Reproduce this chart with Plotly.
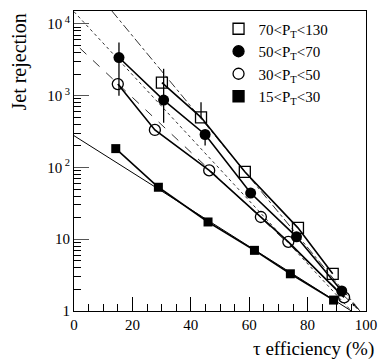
import plotly.graph_objects as go

# ---- data ----
eff_70_130 = [30.1, 43.5, 58.5, 76.7, 88.6]
rej_70_130 = [1520, 500, 87, 14.4, 3.3]

eff_50_70 = [15.4, 30.7, 44.9, 60.5, 76.2, 91.7]
rej_50_70 = [3400, 870, 288, 44, 10.8, 1.9]
err_up_50_70 = [2100, 1500, 0, 0, 0, 0]
err_dn_50_70 = [2400, 450, 85, 0, 0, 0]

eff_30_50 = [15.0, 27.7, 46.3, 64.0, 73.4, 92.5]
rej_30_50 = [1450, 333, 91, 20.4, 9.2, 1.55]

eff_15_30 = [14.3, 28.9, 45.9, 61.8, 74.1, 88.9]
rej_15_30 = [183, 53, 17.4, 7.0, 3.3, 1.42]

err_up_70_130 = [0, 310, 0, 0, 0]

# straight-line fits (end points)
fit_70_130_x = [13.0, 98.0]
fit_70_130_y = [15100, 1.0]
fit_50_70_x = [0.0, 95.0]
fit_50_70_y = [14800, 1.0]
fit_30_50_x = [2.0, 98.0]
fit_30_50_y = [4600, 1.0]
fit_15_30_x = [0.0, 95.0]
fit_15_30_y = [277, 1.0]

legend_names = ["70&lt;P<sub>T</sub>&lt;130", "50&lt;P<sub>T</sub>&lt;70",
                "30&lt;P<sub>T</sub>&lt;50", "15&lt;P<sub>T</sub>&lt;30"]

y_tickvals = [1, 10, 100, 1000, 10000]
y_ticktext = ["1", "10", "10<sup> 2</sup>", "10<sup> 3</sup>", "10<sup> 4</sup>"]
x_tickvals = [0, 20, 40, 60, 80, 100]

FONT = "Times New Roman, Liberation Serif, Tinos, DejaVu Serif, serif"
fig = go.Figure()

# fit lines
fig.add_trace(go.Scatter(x=fit_70_130_x, y=fit_70_130_y, mode="lines",
                         line=dict(color="#333", width=1, dash="dashdot"), showlegend=False))
fig.add_trace(go.Scatter(x=fit_50_70_x, y=fit_50_70_y, mode="lines",
                         line=dict(color="#333", width=1, dash="dot"), showlegend=False))
fig.add_trace(go.Scatter(x=fit_30_50_x, y=fit_30_50_y, mode="lines",
                         line=dict(color="#333", width=1, dash="dash"), showlegend=False))
fig.add_trace(go.Scatter(x=fit_15_30_x, y=fit_15_30_y, mode="lines",
                         line=dict(color="black", width=1), showlegend=False))

# data series
fig.add_trace(go.Scatter(x=eff_15_30, y=rej_15_30, mode="lines+markers",
                         line=dict(color="black", width=1.6),
                         marker=dict(symbol="square", size=9, color="black"),
                         showlegend=False))
fig.add_trace(go.Scatter(x=eff_30_50, y=rej_30_50, mode="lines+markers",
                         line=dict(color="black", width=1.6),
                         marker=dict(symbol="circle-open", size=11, color="black",
                                     line=dict(width=1.3)),
                         showlegend=False))
fig.add_trace(go.Scatter(x=eff_50_70, y=rej_50_70, mode="lines+markers",
                         line=dict(color="black", width=1.6),
                         marker=dict(symbol="circle", size=11, color="black"),
                         error_y=dict(type="data", symmetric=False, array=err_up_50_70,
                                      arrayminus=err_dn_50_70, color="black",
                                      thickness=1.3, width=0),
                         showlegend=False))
fig.add_trace(go.Scatter(x=eff_70_130, y=rej_70_130, mode="lines+markers",
                         line=dict(color="black", width=1.6),
                         marker=dict(symbol="square-open", size=11, color="black",
                                     line=dict(width=1.3)),
                         error_y=dict(type="data", symmetric=False, array=err_up_70_130,
                                      arrayminus=[0] * 5, color="black",
                                      thickness=1.3, width=0),
                         showlegend=False))

# legend entries
leg_symbols = ["square-open", "circle", "circle-open", "square"]
for name, sym in zip(legend_names, leg_symbols):
    fig.add_trace(go.Scatter(x=[None], y=[None], mode="markers", name=name,
                             marker=dict(symbol=sym, size=11, color="black",
                                         line=dict(width=1.3, color="black"))))

fig.add_annotation(x=95.3, y=0.11, xref="x", yref="y", ax=6, ay=7,
                   showarrow=True, arrowhead=2, arrowsize=0.6, arrowwidth=1,
                   arrowcolor="black", text="")

fig.add_annotation(text="Jet rejection", xref="paper", yref="paper",
                   x=-0.19, y=0.83, xanchor="center", yanchor="middle", textangle=-90,
                   showarrow=False, font=dict(family=FONT, size=20, color="black"))
fig.add_annotation(text="τ efficiency (%)", xref="paper", yref="paper",
                   x=1.035, y=-0.125, xanchor="right", yanchor="middle",
                   showarrow=False, font=dict(family=FONT, size=19, color="black"))

fig.update_xaxes(range=[0, 100], tickvals=x_tickvals, ticks="inside", ticklen=14,
                 tickwidth=1, tickcolor="black", showline=True, linecolor="black",
                 linewidth=1, mirror=True, showgrid=False, zeroline=False,
                 tickfont=dict(family=FONT, size=15, color="black"),
                 minor=dict(ticks="inside", ticklen=7, dtick=5, tickcolor="black",
                            showgrid=False))
fig.update_yaxes(type="log", range=[0, 4.18], tickvals=y_tickvals, ticktext=y_ticktext,
                 ticks="inside", ticklen=15, tickwidth=1, tickcolor="#555",
                 showline=True, linecolor="black", linewidth=1, mirror=True,
                 showgrid=False, zeroline=False,
                 tickfont=dict(family=FONT, size=15, color="black"),
                 minor=dict(ticks="inside", ticklen=7, tickcolor="black",
                            tickvals=[m * 10 ** e for e in range(0, 5) for m in range(2, 10)],
                            showgrid=False))

fig.update_layout(width=387, height=360, margin=dict(l=74, r=12, t=10, b=49),
                  plot_bgcolor="white", paper_bgcolor="white",
                  font=dict(family=FONT, color="black"),
                  legend=dict(x=0.495, y=0.995, xanchor="left", yanchor="top",
                              bgcolor="rgba(0,0,0,0)", borderwidth=0,
                              font=dict(family=FONT, size=15, color="black"),
                              tracegroupgap=0, itemwidth=30))

fig.write_html("out.html", config={"displayModeBar": False},
               post_script="document.body.style.margin='0';document.body.style.overflow='hidden';")
